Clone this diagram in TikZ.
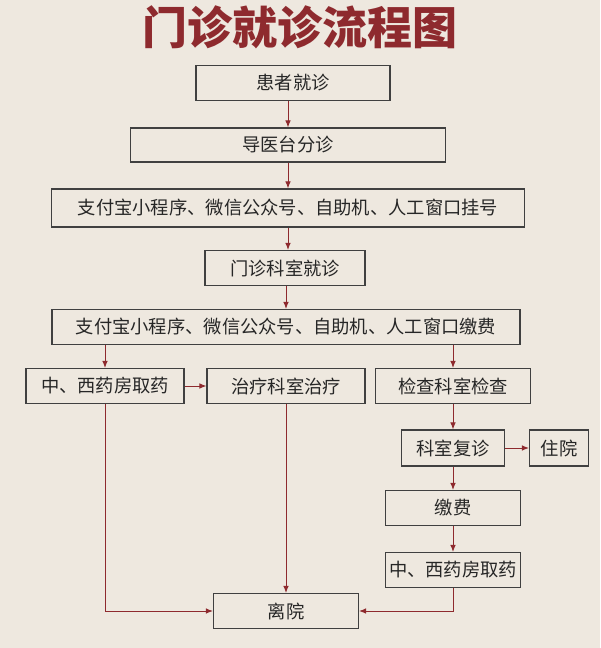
\documentclass[tikz,border=0pt]{standalone}
\usepackage{fontspec}
\newfontfamily\cjk{Noto Sans CJK SC}
\usetikzlibrary{positioning, arrows.meta}
\definecolor{paper}{HTML}{EEE8DF}
\definecolor{wine}{HTML}{8E2A2E}
\begin{document}
\begin{tikzpicture}[x=0.025cm, y=-0.025cm,
      box/.style={draw=black!75, line width=0.8pt, fill=paper, inner sep=0pt,
        font=\cjk\fontsize{13}{13}\selectfont, text=black!85},
      flow/.style={-{Latex[length=5pt,width=4pt]}, draw=wine, line width=0.7pt}]
    \fill[paper] (0,0) rectangle (600,648);
    \node[font=\cjk\bfseries\fontsize{32}{32}\selectfont, text=wine] (title) at (300,27) {门诊就诊流程图};
    \node[box, minimum width=194*0.025cm, minimum height=35*0.025cm] (visit) at (293,83) {患者就诊};
    \node[box, minimum width=315*0.025cm, minimum height=34*0.025cm] (guide) at (288,145) {导医台分诊};
    \node[box, minimum width=473*0.025cm, minimum height=38*0.025cm] (reg) at (288,208) {支付宝小程序、微信公众号、自助机、人工窗口挂号};
    \node[box, minimum width=160*0.025cm, minimum height=35*0.025cm] (dept) at (285,268) {门诊科室就诊};
    \node[box, minimum width=468*0.025cm, minimum height=35*0.025cm] (pay) at (286,327) {支付宝小程序、微信公众号、自助机、人工窗口缴费};
    \node[box, minimum width=158*0.025cm, minimum height=35*0.025cm] (drug) at (105,386) {中、西药房取药};
    \node[box, minimum width=158*0.025cm, minimum height=35*0.025cm] (treat) at (286,386) {治疗科室治疗};
    \node[box, minimum width=155*0.025cm, minimum height=35*0.025cm] (exam) at (453,386) {检查科室检查};
    \node[box, minimum width=103*0.025cm, minimum height=36*0.025cm] (revisit) at (453,448) {科室复诊};
    \node[box, minimum width=59*0.025cm, minimum height=36*0.025cm] (stay) at (559,448) {住院};
    \node[box, minimum width=135*0.025cm, minimum height=35*0.025cm] (fee) at (453,508) {缴费};
    \node[box, minimum width=135*0.025cm, minimum height=35*0.025cm] (drug2) at (453,570) {中、西药房取药};
    \node[box, minimum width=145*0.025cm, minimum height=35*0.025cm] (leave) at (286,611) {离院};
    % main column
    \draw[flow] (visit.south -| guide) -- (guide);
    \draw[flow] (guide) -- (reg);
    \draw[flow] (reg) -- (reg |- dept.north);
    \draw[flow] (dept.south -| pay) -- (pay);
    \draw[flow] (pay.south -| drug) -- (drug);
    \draw[flow] (pay.south -| exam) -- (exam);
    \draw[flow] (drug) -- (treat);
    \draw[flow] (treat) -- (leave);
    \draw[flow] (exam) -- (revisit);
    \draw[flow] (revisit) -- (stay);
    \draw[flow] (revisit) -- (fee);
    \draw[flow] (fee) -- (drug2);
    \draw[flow] (drug) |- (leave);
    \draw[flow] (drug2) |- (leave);
\end{tikzpicture}
\end{document}
